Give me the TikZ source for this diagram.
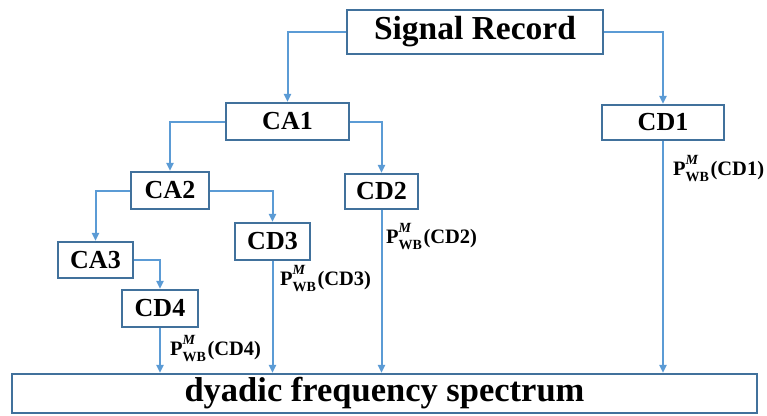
\documentclass[tikz,border=0pt]{standalone}
\usepackage{fontspec}
\setmainfont{Liberation Serif}
\usetikzlibrary{arrows.meta}
\definecolor{boxblue}{RGB}{65,113,156}
\definecolor{arrblue}{RGB}{91,155,213}
\newcommand\pwb[1]{P\makebox[0pt][l]{\raisebox{0.5em}{\fontsize{14}{14}\selectfont\bfseries\itshape M}}\raisebox{-0.3em}{\fontsize{14}{14}\selectfont\bfseries WB}\kern1.5pt(#1)}
\tikzset{
  box/.style={draw=boxblue, line width=2.2pt, fill=white, inner sep=0pt, font=\bfseries\fontsize{26}{26}\selectfont},
  conn/.style={draw=arrblue, line width=2pt, -{Triangle[length=8pt,width=7pt]}},
  lab/.style={anchor=base west, inner sep=0pt, font=\bfseries\fontsize{20.5}{20.5}\selectfont}
}
\begin{document}
\begin{tikzpicture}[x=1pt,y=-1pt]
\useasboundingbox (0,0) rectangle (767,415);
\node[box, minimum width=256pt, minimum height=44pt, font=\bfseries\fontsize{33.5}{33.5}\selectfont] (sr) at (475,32) {Signal Record};
\node[box, minimum width=123pt, minimum height=37pt] (ca1) at (287.5,121.5) {CA1};
\node[box, minimum width=122pt, minimum height=35pt] (cd1) at (663,122.5) {CD1};
\node[box, minimum width=78pt, minimum height=37pt] (ca2) at (170,190.5) {CA2};
\node[box, minimum width=73pt, minimum height=35pt] (cd2) at (381.5,191.5) {CD2};
\node[box, minimum width=75pt, minimum height=37pt] (cd3) at (272.5,241.5) {CD3};
\node[box, minimum width=75pt, minimum height=36pt] (ca3) at (95.5,260) {CA3};
\node[box, minimum width=76pt, minimum height=37pt] (cd4) at (160,308.5) {CD4};
\node[box, minimum width=745pt, minimum height=39pt, font=\bfseries\fontsize{34.5}{34.5}\selectfont] (spec) at (384.5,393.5) {dyadic frequency spectrum};

\draw[conn] (sr.west) -| (ca1.north);
\draw[conn] (sr.east) -| (cd1.north);
\draw[conn] (ca1.west) -| (ca2.north);
\draw[conn] (ca1.east) -| (cd2.north);
\draw[conn] (ca2.west) -| (ca3.north);
\draw[conn] (ca2.east) -| (cd3.north);
\draw[conn] (ca3.east) -| (cd4.north);
\draw[conn] (cd4.south) -- (cd4.south |- spec.north);
\draw[conn] (cd3.south) -- (cd3.south |- spec.north);
\draw[conn] (cd2.south) -- (cd2.south |- spec.north);
\draw[conn] (cd1.south) -- (cd1.south |- spec.north);

\node[lab] (l1) at (673,175) {\pwb{CD1}};
\node[lab] (l2) at (386,243) {\pwb{CD2}};
\node[lab] (l3) at (280,285) {\pwb{CD3}};
\node[lab] (l4) at (170,355) {\pwb{CD4}};
\end{tikzpicture}
\end{document}
